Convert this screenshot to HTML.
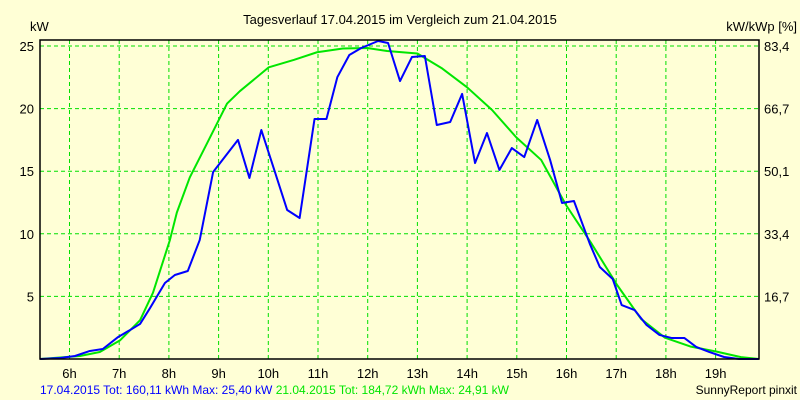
<!DOCTYPE html>
<html><head><meta charset="utf-8"><style>
body{margin:0;background:#ffffd6;}
svg{display:block;font-family:"Liberation Sans",sans-serif;}
</style></head><body>
<svg id="c" width="800" height="400"></svg>
<script>
const hourTicks=[6,7,8,9,10,11,12,13,14,15,16,17,18,19];
const leftTicks=[5,10,15,20,25];
const rightTickLabels=["16,7","33,4","50,1","66,7","83,4"];
const blueHours=[5.41,5.81,6.11,6.41,6.67,6.98,7.22,7.42,7.62,7.92,8.12,8.38,8.62,8.89,9.39,9.62,9.86,10.12,10.38,10.63,10.93,11.17,11.39,11.63,11.87,12.21,12.41,12.65,12.89,13.15,13.39,13.66,13.9,14.16,14.4,14.65,14.9,15.15,15.41,15.67,15.91,16.15,16.47,16.67,16.93,17.11,17.37,17.61,17.87,18.11,18.37,18.61,18.87,19.17,19.47,19.87];
const blueKW=[0,0.08,0.24,0.64,0.8,1.76,2.32,2.8,4.07,6.07,6.71,7.03,9.5,14.94,17.5,14.46,18.29,15.1,11.9,11.26,19.17,19.17,22.52,24.28,24.84,25.4,25.24,22.2,24.12,24.2,18.69,18.93,21.17,15.65,18.05,15.1,16.85,16.13,19.09,15.9,12.46,12.62,9.19,7.35,6.39,4.31,3.91,2.72,1.92,1.68,1.68,0.96,0.56,0.16,0,0];
const greenHours=[5.41,6.21,6.61,7.02,7.42,7.68,8.02,8.16,8.42,8.77,9.17,9.43,10.01,10.52,10.98,11.5,11.99,12.39,13.0,13.5,14.0,14.5,14.99,15.49,15.99,16.49,17.02,17.5,17.98,18.49,19.01,19.51,19.87];
const greenKW=[0,0.24,0.56,1.5,3.1,5.3,9.5,11.7,14.5,17.25,20.4,21.4,23.3,23.9,24.5,24.8,24.84,24.6,24.4,23.2,21.7,19.9,17.7,15.9,12.3,9.3,5.9,3.2,1.7,1.0,0.6,0.15,0];

const L=40,R=759,T=40,B=359;
const x=h=>69.5+(h-6)*49.7;
const y=v=>359-v*12.52;
const svg=document.getElementById('c');
const NS='http://www.w3.org/2000/svg';
function mk(tag,attrs,name,parent){const e=document.createElementNS(NS,tag);for(const k in attrs)e.setAttribute(k,attrs[k]);


(parent||svg).appendChild(e);return e;}
function txt(s,a,name){const e=mk('text',a,name);e.textContent=s;return e;}
mk('rect',{x:0,y:0,width:800,height:400,fill:'#ffffd6'},'background');
const g=mk('g',{stroke:'#00e000','stroke-width':1,'stroke-dasharray':'4,3'},'grid');
hourTicks.forEach(h=>{mk('line',{x1:x(h),x2:x(h),y1:T,y2:B},'grid-v',g);});
leftTicks.forEach(v=>{mk('line',{x1:L,x2:R,y1:y(v),y2:y(v)},'grid-h',g);});
function poly(hs,vs,col,name){mk('polyline',{points:hs.map((h,i)=>x(h)+','+y(vs[i])).join(' '),fill:'none',stroke:col,'stroke-width':2,'stroke-linejoin':'round'},name);}
poly(greenHours,greenKW,'#00e600','series-21-04-2015');
poly(blueHours,blueKW,'#0000ff','series-17-04-2015');
mk('rect',{x:L,y:T,width:R-L,height:B-T,fill:'none',stroke:'#000','stroke-width':1.5},'plot-border');
hourTicks.forEach(h=>txt(h+'h',{x:x(h),y:378,'font-size':13,'text-anchor':'middle',fill:'#000'},'x-tick-label'));
leftTicks.forEach(v=>txt(String(v),{x:34,y:y(v)+5,'font-size':13,'text-anchor':'end',fill:'#000'},'y-tick-label'));
leftTicks.forEach((v,i)=>txt(rightTickLabels[i],{x:764,y:y(v)+5,'font-size':13,fill:'#000'},'y2-tick-label'));
txt('kW',{x:30,y:31,'font-size':13,fill:'#000'},'y-axis-title');
txt('kW/kWp [%]',{x:797,y:31,'font-size':13,'text-anchor':'end',fill:'#000'},'y2-axis-title');
txt('Tagesverlauf 17.04.2015 im Vergleich zum 21.04.2015',{x:400,y:24,'font-size':13,'text-anchor':'middle',fill:'#000'},'chart-title');
const f=mk('text',{x:40,y:394,'font-size':12},'legend');
const t1=mk('tspan',{fill:'#0000ff'},'legend-entry-17-04',f);t1.textContent='17.04.2015 Tot: 160,11 kWh Max: 25,40 kW ';
const t2=mk('tspan',{fill:'#00e600'},'legend-entry-21-04',f);t2.textContent='21.04.2015 Tot: 184,72 kWh Max: 24,91 kW';
txt('SunnyReport pinxit',{x:797,y:394,'font-size':12,'text-anchor':'end',fill:'#000'},'credit');
</script>
</body></html>
